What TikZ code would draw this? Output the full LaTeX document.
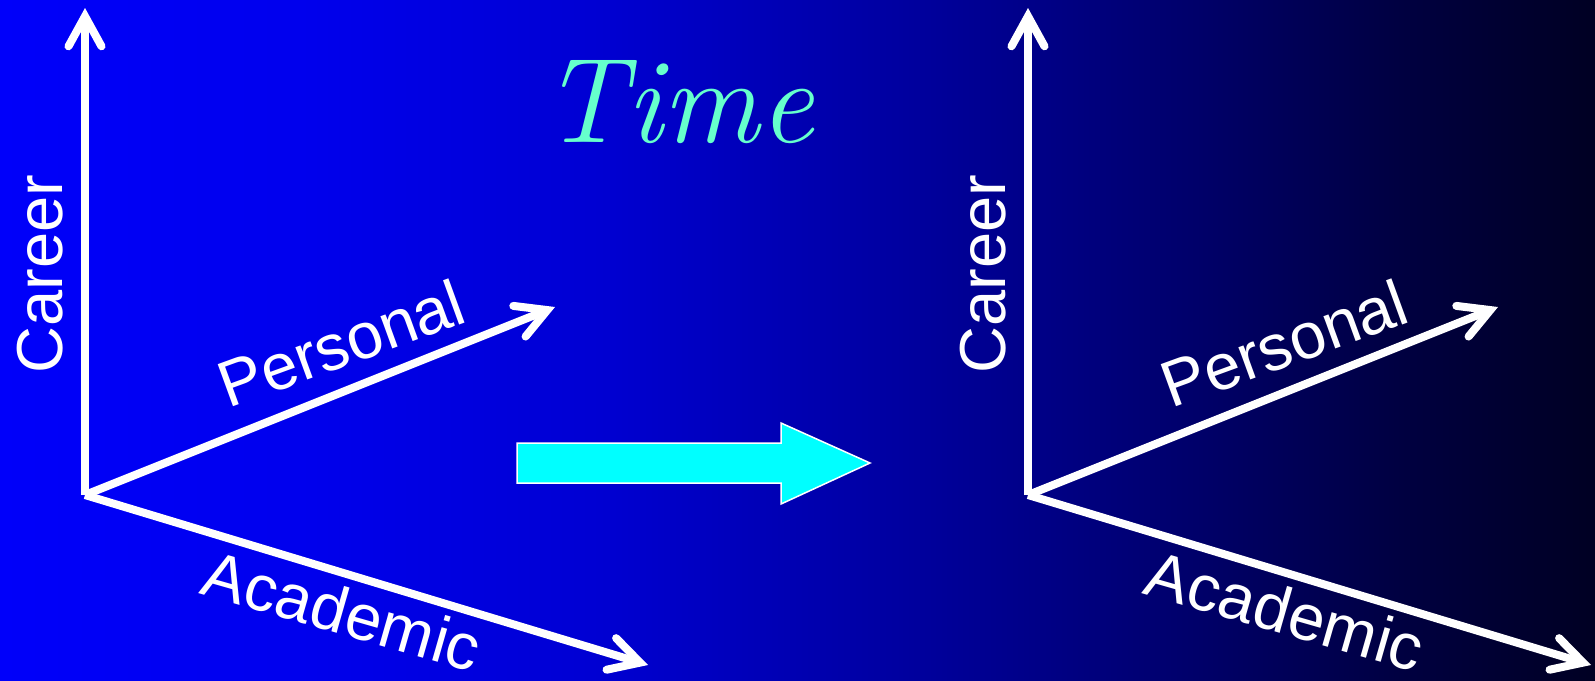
\documentclass[tikz,border=0pt]{standalone}
\usepackage{fontspec}
\newfontfamily\arialfont{Liberation Sans}
\usetikzlibrary{arrows.meta}
\definecolor{bgA}{RGB}{0,0,250}
\definecolor{bgB}{RGB}{0,0,237}
\definecolor{bgC}{RGB}{0,0,210}
\definecolor{bgD}{RGB}{0,0,160}
\definecolor{bgE}{RGB}{0,0,105}
\definecolor{bgF}{RGB}{0,0,65}
\definecolor{bgG}{RGB}{0,0,35}
\definecolor{timecol}{RGB}{102,255,204}
\definecolor{bigarrow}{RGB}{0,255,255}
\begin{document}
\begin{tikzpicture}[x=1pt,y=-1pt,
  axis/.style={white, line width=8pt,
    -{Straight Barb[length=30pt,width=33pt,line cap=round,line join=miter]}},
  lbl/.style={text=white, inner sep=0pt, font=\arialfont\fontsize{65}{65}\selectfont}]
% background
\useasboundingbox (0,0) rectangle (1595,680);
\shade[left color=bgA,right color=bgB] (0,0) rectangle (301,680);
\shade[left color=bgB,right color=bgC] (300,0) rectangle (601,680);
\shade[left color=bgC,right color=bgD] (600,0) rectangle (901,680);
\shade[left color=bgD,right color=bgE] (900,0) rectangle (1201,680);
\shade[left color=bgE,right color=bgF] (1200,0) rectangle (1401,680);
\shade[left color=bgF,right color=bgG] (1400,0) rectangle (1595,680);
% left system
\coordinate (o1) at (85,495);
\coordinate (c1) at (85,8);
\coordinate (p1) at (555,307);
\coordinate (a1) at (648,665);
\draw[axis] (o1) -- (c1);
\draw[axis] (o1) -- (p1);
\draw[axis] (o1) -- (a1);
\node[lbl, rotate=90, anchor=base] (career1) at (62,274) {Career};
\node[lbl, rotate=20, anchor=base] (personal1) at (349,365) {Personal};
\node[lbl, rotate=-16, anchor=base] (academic1) at (336,633) {Academic};
% right system
\coordinate (o2) at (1028,495);
\coordinate (c2) at (1028,8);
\coordinate (p2) at (1498,307);
\coordinate (a2) at (1591,665);
\draw[axis] (o2) -- (c2);
\draw[axis] (o2) -- (p2);
\draw[axis] (o2) -- (a2);
\node[lbl, rotate=90, anchor=base] (career2) at (1005,274) {Career};
\node[lbl, rotate=20, anchor=base] (personal2) at (1292,365) {Personal};
\node[lbl, rotate=-16, anchor=base] (academic2) at (1279,633) {Academic};
% title
\node[text=timecol, inner sep=0pt, anchor=base, font=\fontsize{121}{121}\selectfont\itshape] (time) at (678,142) {Time};
% big arrow
\draw[white, line width=1.5pt, fill=bigarrow, line join=miter]
  (517,443) -- (781,443) -- (781,423) -- (870,463) -- (781,504) -- (781,483) -- (517,483) -- cycle;
\end{tikzpicture}
\end{document}
